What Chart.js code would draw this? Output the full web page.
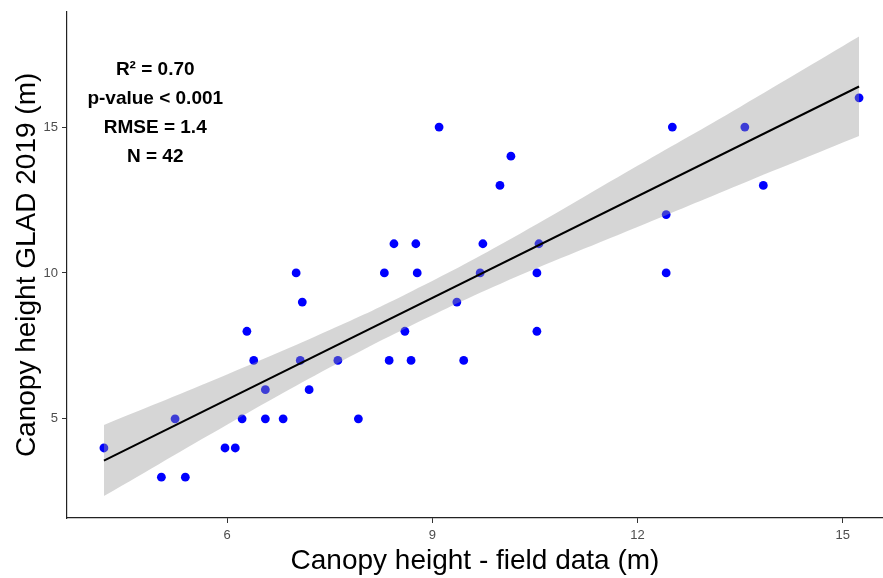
<!DOCTYPE html>
<html>
<head>
<meta charset="utf-8">
<script src="https://cdn.jsdelivr.net/npm/chart.js@4.4.1/dist/chart.umd.min.js"></script>
<style>
  html, body { margin: 0; padding: 0; background: #fff; }
  #wrap { width: 883px; height: 578px; }
</style>
</head>
<body>
<div id="wrap"><canvas id="chart" width="883" height="578"></canvas></div>
<script>
// ---------- Data ----------
// field-measured canopy height (m)
const fieldHeight = [
  4.20, 5.04, 5.24, 5.39, 5.97, 6.12, 6.22, 6.29, 6.39, 6.56, 6.56, 6.82,
  7.01, 7.07, 7.10, 7.20, 7.62, 7.92, 8.30, 8.37, 8.44, 8.60, 8.69, 8.76,
  8.78, 9.10, 9.36, 9.46, 9.70, 9.74, 9.99, 10.15, 10.53, 10.53, 10.56,
  12.42, 12.42, 12.51, 13.57, 13.84, 15.24
];
// GLAD 2019 canopy height (m), same order
const gladHeight = [
  4, 3, 5, 3, 4, 4, 5, 8, 7, 6, 5, 5,
  10, 7, 9, 6, 7, 5, 10, 7, 11, 8, 7, 11,
  10, 15, 9, 7, 10, 11, 13, 14, 10, 8, 11,
  12, 10, 15, 15, 13, 16
];

// linear fit, read at both ends
const fitX = [4.20, 15.24];
const fitY = [3.57, 16.39];

// confidence band of the fit
const bandX = [4.20, 6.0, 7.5, 8.6, 10.0, 12.0, 13.5, 15.24];
const bandUpper = [4.79, 6.52, 8.04, 9.25, 10.97, 13.67, 15.69, 18.10];
const bandLower = [2.35, 4.80, 6.76, 8.09, 9.63, 11.57, 13.03, 14.69];

const xTicks = [6, 9, 12, 15];
const yTicks = [5, 10, 15];

const statsText = ['R\u00b2 = 0.70', 'p-value < 0.001', 'RMSE = 1.4', 'N = 42'];

// ---------- Helpers ----------
const toXY = (xs, ys) => xs.map((x, i) => ({ x, y: ys[i] }));

Chart.defaults.font.family = '"Liberation Sans", Arial, sans-serif';

// stats block in the top-left corner, placed in data units
const statsLabel = {
  id: 'statsLabel',
  afterDatasetsDraw(chart) {
    const { ctx, scales: { x, y } } = chart;
    ctx.save();
    ctx.font = 'bold 19px "Liberation Sans", Arial, sans-serif';
    ctx.fillStyle = '#000';
    ctx.textAlign = 'center';
    ctx.textBaseline = 'middle';
    const cx = x.getPixelForValue(4.95);
    statsText.forEach((t, i) => {
      ctx.fillText(t, cx, y.getPixelForValue(16.95 - i * 0.985));
    });
    ctx.restore();
  }
};

const axisGrid = { display: true, drawOnChartArea: false, drawTicks: true, tickLength: 5, color: '#333' };
const axisBorder = { display: true, color: '#222', width: 1.2 };

new Chart(document.getElementById('chart'), {
  type: 'scatter',
  data: {
    datasets: [
      {
        type: 'line',
        data: toXY(fitX, fitY),
        borderColor: '#000',
        borderWidth: 2,
        pointRadius: 0,
        fill: false,
        order: 0
      },
      {
        type: 'line',
        data: toXY(bandX, bandUpper),
        borderWidth: 0,
        borderColor: 'rgba(0,0,0,0)',
        pointRadius: 0,
        tension: 0.4,
        fill: '+1',
        backgroundColor: 'rgba(153,153,153,0.4)',
        order: 1
      },
      {
        type: 'line',
        data: toXY(bandX, bandLower),
        borderWidth: 0,
        borderColor: 'rgba(0,0,0,0)',
        pointRadius: 0,
        tension: 0.4,
        fill: false,
        order: 1
      },
      {
        data: toXY(fieldHeight, gladHeight),
        backgroundColor: '#0000ff',
        borderWidth: 0,
        pointRadius: 4.4,
        order: 2
      }
    ]
  },
  options: {
    responsive: false,
    animation: false,
    devicePixelRatio: 1,
    layout: { autoPadding: false, padding: { top: 8, right: 0, left: 0, bottom: 0 } },
    plugins: {
      legend: { display: false },
      tooltip: { enabled: false }
    },
    scales: {
      x: {
        type: 'linear',
        min: 3.66,
        max: 15.59,
        afterBuildTicks: s => { s.ticks = xTicks.map(v => ({ value: v })); },
        afterFit: s => { s.height = 60; },
        grid: axisGrid,
        border: axisBorder,
        ticks: { color: '#4d4d4d', font: { size: 13 }, padding: 5 },
        title: {
          display: true,
          text: 'Canopy height - field data (m)',
          color: '#000',
          font: { size: 28 },
          padding: { top: 0, bottom: 0 }
        }
      },
      y: {
        type: 'linear',
        min: 1.6,
        max: 18.95,
        afterBuildTicks: s => { s.ticks = yTicks.map(v => ({ value: v })); },
        afterFit: s => { s.width = 67; },
        grid: axisGrid,
        border: axisBorder,
        ticks: { color: '#4d4d4d', font: { size: 13 }, padding: 4 },
        title: {
          display: true,
          text: 'Canopy height GLAD 2019 (m)',
          color: '#000',
          font: { size: 28 },
          padding: { top: 10, bottom: 0 }
        }
      }
    }
  },
  plugins: [statsLabel]
});
</script>
</body>
</html>
